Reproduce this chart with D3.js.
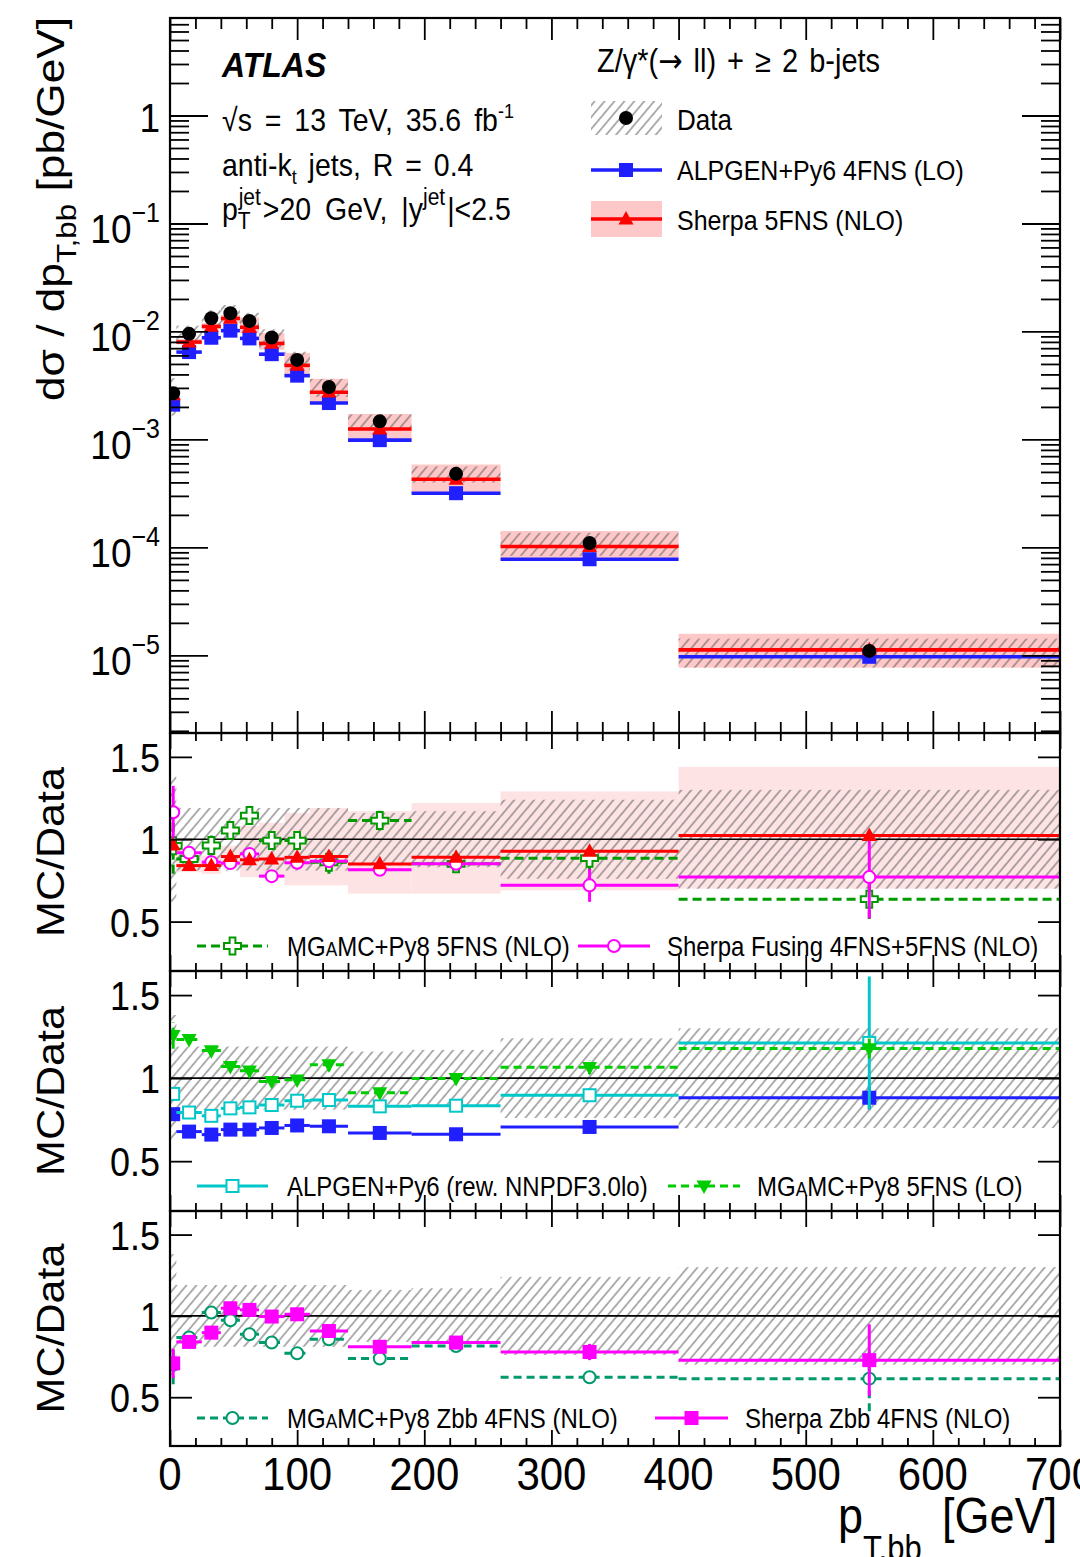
<!DOCTYPE html>
<html>
<head>
<meta charset="utf-8">
<script src="https://cdn.jsdelivr.net/npm/d3@7"></script>
<style>
  body { margin: 0; background: #fff; }
  svg { display: block; font-family: "Liberation Sans", Arial, Helvetica, sans-serif; }
</style>
</head>
<body>
<svg id="chart" width="1080" height="1557"></svg>
<script>
// ---- pT,bb binning (GeV) ----
const binEdges = [0, 5, 25, 40, 55, 70, 90, 110, 140, 190, 260, 400, 700];

// ---- measured dσ/dpT,bb (pb/GeV) and its relative total uncertainty ----
const dataXsec   = [2.68e-3, 9.5e-3, 1.325e-2, 1.475e-2, 1.25e-2, 8.8e-3, 5.45e-3, 3.06e-3, 1.47e-3, 4.8e-4, 1.1e-4, 1.1e-5];
const dataRelUnc = [0.38, 0.19, 0.19, 0.19, 0.19, 0.19, 0.19, 0.19, 0.16, 0.17, 0.24, 0.30];

// ---- predictions, expressed as MC/Data ----
const sherpa5Ratio  = [0.965, 0.84, 0.84, 0.895, 0.875, 0.88, 0.89, 0.895, 0.85, 0.89, 0.927, 1.022];
const sherpa5BandLo = [0.90, 0.80, 0.79, 0.83, 0.77, 0.77, 0.72, 0.72, 0.67, 0.67, 0.69, 0.70];
const sherpa5BandHi = [1.03, 0.90, 0.90, 0.96, 1.08, 1.10, 1.16, 1.19, 1.17, 1.22, 1.29, 1.44];

const mg5NloRatio = [0.96, 0.88, 0.962, 1.053, 1.144, 0.992, 0.992, 0.86, 1.113, 0.851, 0.885, 0.636];
const mg5NloErr   = [0.17, 0.05, 0.06, 0.05, 0.05, 0.04, 0.04, 0.07, 0.06, 0.04, 0.08, 0.12];
const fusingRatio = [1.164, 0.918, 0.861, 0.855, 0.911, 0.776, 0.857, 0.867, 0.815, 0.851, 0.72, 0.77];
const fusingErr   = [0.16, 0.02, 0.02, 0.02, 0.02, 0.03, 0.02, 0.03, 0.03, 0.03, 0.10, 0.25];

const alpgenRatio    = [0.783, 0.678, 0.66, 0.69, 0.69, 0.70, 0.715, 0.71, 0.67, 0.662, 0.706, 0.882];
const alpgenErr      = [0.02, 0.01, 0.01, 0.01, 0.01, 0.01, 0.01, 0.01, 0.01, 0.01, 0.02, 0.07];
const alpgenRewRatio = [0.905, 0.793, 0.773, 0.818, 0.824, 0.838, 0.864, 0.868, 0.83, 0.834, 0.897, 1.212];
const alpgenRewErr   = [0.04, 0.02, 0.02, 0.02, 0.02, 0.02, 0.02, 0.02, 0.02, 0.02, 0.04, 0.40];
const mg5LoRatio     = [1.257, 1.233, 1.166, 1.07, 1.044, 0.98, 0.99, 1.081, 0.912, 0.998, 1.065, 1.178];
const mg5LoErr       = [0.08, 0.02, 0.02, 0.02, 0.02, 0.02, 0.02, 0.04, 0.03, 0.03, 0.04, 0.06];

const mgZbbRatio     = [0.70, 0.867, 1.021, 0.973, 0.887, 0.836, 0.77, 0.856, 0.738, 0.815, 0.623, 0.614];
const mgZbbErr       = [0.12, 0.03, 0.03, 0.03, 0.03, 0.03, 0.03, 0.03, 0.03, 0.03, 0.04, 0.20];
const sherpaZbbRatio = [0.708, 0.84, 0.897, 1.047, 1.037, 0.996, 1.01, 0.907, 0.81, 0.836, 0.778, 0.728];
const sherpaZbbErr   = [0.09, 0.03, 0.03, 0.03, 0.03, 0.03, 0.03, 0.03, 0.03, 0.04, 0.05, 0.22];

// ---- axis labels ----
const xTickLabels = ["0", "100", "200", "300", "400", "500", "600", "700"];
const mainDecades = [1, 1e-1, 1e-2, 1e-3, 1e-4, 1e-5];
const ratioTicks = [0.5, 1, 1.5];

// ------------------------------------------------------------------
const SY = 1.12;               // vertical text stretch of the ROOT output
const X0 = 170, X1 = 1060;
const frames = {
  main: [18, 733],
  r1: [733, 971],
  r2: [971, 1211],
  r3: [1211, 1446]
};
const COL = {
  blue: "#1f1fff", red: "#ff0000", magenta: "#ff00ff", cyan: "#00c8c8",
  greenNlo: "#009a00", greenLo: "#00cc00", teal: "#00996b"
};

const svg = d3.select("#chart");
const defs = svg.append("defs");

const hatch = defs.append("pattern").attr("id", "hatch")
  .attr("patternUnits", "userSpaceOnUse").attr("width", 7.6).attr("height", 7.6)
  .attr("patternTransform", "rotate(40)");
hatch.append("line").attr("x1", 3.8).attr("y1", -1).attr("x2", 3.8).attr("y2", 8.6)
  .attr("stroke", "#5e5e5e").attr("stroke-width", 1.0);

const x = d3.scaleLinear().domain([0, 700]).range([X0, X1]);
const yMain = d3.scaleLog().domain([1.91e-6, 8.0]).range([frames.main[1], frames.main[0]]);
const yR = {};
["r1", "r2", "r3"].forEach(k => {
  yR[k] = d3.scaleLinear().domain([0.2, 1.645]).range([frames[k][1], frames[k][0]]);
});

Object.entries(frames).forEach(([k, [t, b]]) => {
  defs.append("clipPath").attr("id", "clip-" + k)
    .append("rect").attr("x", X0).attr("y", t).attr("width", X1 - X0).attr("height", b - t);
});

const bins = dataXsec.map((d, i) => ({
  i, lo: binEdges[i], hi: binEdges[i + 1], c: (binEdges[i] + binEdges[i + 1]) / 2
}));

// ---------- text helpers ----------
function stext(parent, px, py, size, anchor = "start", rotate = false) {
  const g = parent.append("g").attr("transform",
    rotate ? `translate(${px},${py}) rotate(-90) scale(${SY},1)`
           : `translate(${px},${py}) scale(1,${SY})`);
  return g.append("text").attr("font-size", size).attr("text-anchor", anchor).attr("fill", "#000");
}
function span(t, str, opts = {}) {
  const s = t.append("tspan").text(str);
  if (opts.size) s.attr("font-size", opts.size);
  if (opts.dy) s.attr("dy", opts.dy);
  if (opts.dx) s.attr("dx", opts.dx);
  if (opts.family) s.attr("font-family", opts.family);
  return s;
}
// "MGAMC" with the small-capital A
function mgamc(t, size) {
  span(t, "MG");
  span(t, "A", { size: size * 0.72 });
  span(t, "MC");
}

// ---------- markers ----------
function marker(g, type, cx, cy, color, s) {
  switch (type) {
    case "dot":
      return g.append("circle").attr("cx", cx).attr("cy", cy).attr("r", s / 2).attr("fill", color);
    case "sq":
      return g.append("rect").attr("x", cx - s / 2).attr("y", cy - s / 2).attr("width", s).attr("height", s).attr("fill", color);
    case "osq":
      return g.append("rect").attr("x", cx - s / 2 + 1).attr("y", cy - s / 2 + 1).attr("width", s - 2).attr("height", s - 2)
        .attr("fill", "#fff").attr("stroke", color).attr("stroke-width", 2);
    case "ocirc":
      return g.append("circle").attr("cx", cx).attr("cy", cy).attr("r", s / 2 - 1)
        .attr("fill", "#fff").attr("stroke", color).attr("stroke-width", 2);
    case "tri": {
      const h = s * 0.9;
      return g.append("path").attr("d", `M${cx},${cy - h * 0.6}L${cx + s / 2},${cy + h * 0.4}L${cx - s / 2},${cy + h * 0.4}Z`).attr("fill", color);
    }
    case "tridn": {
      const h = s * 0.9;
      return g.append("path").attr("d", `M${cx},${cy + h * 0.6}L${cx + s / 2},${cy - h * 0.4}L${cx - s / 2},${cy - h * 0.4}Z`).attr("fill", color);
    }
    case "ocross": {
      const a = s / 2, w = s * 0.17;
      const pts = [[-w, -a], [w, -a], [w, -w], [a, -w], [a, w], [w, w], [w, a], [-w, a], [-w, w], [-a, w], [-a, -w], [-w, -w]];
      return g.append("path").attr("d", "M" + pts.map(q => `${cx + q[0]},${cy + q[1]}`).join("L") + "Z")
        .attr("fill", "#fff").attr("stroke", color).attr("stroke-width", 2);
    }
  }
}

// ---------- axes / ticks ----------
function xTicks(top, bottom, majLen, minLen) {
  const major = d3.range(0, 701, 100), minor = d3.range(0, 701, 20).filter(v => v % 100 !== 0);
  const add = (axis, y) => {
    const g = svg.append("g").attr("transform", `translate(0,${y})`).call(axis);
    g.select(".domain").remove();
    g.selectAll("line").attr("stroke", "#000").attr("stroke-width", 1.8);
  };
  add(d3.axisBottom(x).tickValues(major).tickSize(majLen).tickFormat(""), top);
  add(d3.axisBottom(x).tickValues(minor).tickSize(minLen).tickFormat(""), top);
  add(d3.axisTop(x).tickValues(major).tickSize(majLen).tickFormat(""), bottom);
  add(d3.axisTop(x).tickValues(minor).tickSize(minLen).tickFormat(""), bottom);
}
function yTicks(scale, values, len) {
  const addL = svg.append("g").attr("transform", `translate(${X0},0)`)
    .call(d3.axisRight(scale).tickValues(values).tickSize(len).tickFormat(""));
  const addR = svg.append("g").attr("transform", `translate(${X1},0)`)
    .call(d3.axisLeft(scale).tickValues(values).tickSize(len).tickFormat(""));
  [addL, addR].forEach(g => {
    g.select(".domain").remove();
    g.selectAll("line").attr("stroke", "#000").attr("stroke-width", 1.8);
  });
}

// ====================== MAIN PANEL ======================
const gm = svg.append("g").attr("clip-path", "url(#clip-main)");
// Sherpa 5FNS uncertainty band
gm.selectAll(".band").data(bins).join("rect")
  .attr("x", d => x(d.lo)).attr("width", d => x(d.hi) - x(d.lo))
  .attr("y", d => yMain(dataXsec[d.i] * sherpa5BandHi[d.i]))
  .attr("height", d => yMain(dataXsec[d.i] * sherpa5BandLo[d.i]) - yMain(dataXsec[d.i] * sherpa5BandHi[d.i]))
  .attr("fill", "#ffc8c8");
// data uncertainty (hatched)
gm.selectAll(".dunc").data(bins).join("rect")
  .attr("x", d => x(d.lo)).attr("width", d => x(d.hi) - x(d.lo))
  .attr("y", d => yMain(dataXsec[d.i] * (1 + dataRelUnc[d.i])))
  .attr("height", d => yMain(dataXsec[d.i] * (1 - dataRelUnc[d.i])) - yMain(dataXsec[d.i] * (1 + dataRelUnc[d.i])))
  .attr("fill", "url(#hatch)");
// ALPGEN 4FNS and Sherpa 5FNS predictions
[[alpgenRatio, COL.blue], [sherpa5Ratio, COL.red]].forEach(([r, c]) => {
  gm.selectAll(null).data(bins).join("line")
    .attr("x1", d => x(d.lo)).attr("x2", d => x(d.hi))
    .attr("y1", d => yMain(dataXsec[d.i] * r[d.i])).attr("y2", d => yMain(dataXsec[d.i] * r[d.i]))
    .attr("stroke", c).attr("stroke-width", 3.6);
});
bins.forEach(d => marker(gm, "sq", x(d.c), yMain(dataXsec[d.i] * alpgenRatio[d.i]), COL.blue, 14));
bins.forEach(d => marker(gm, "tri", x(d.c), yMain(dataXsec[d.i] * sherpa5Ratio[d.i]), COL.red, 15));
bins.forEach(d => marker(gm, "dot", x(d.c), yMain(dataXsec[d.i]), "#000", 14));

// ticks of main panel
xTicks(frames.main[0], frames.main[1], 22, 11);
const logMinor = [];
for (let e = -6; e <= 0; e++) for (let m = 2; m <= 9; m++) {
  const v = m * Math.pow(10, e);
  if (v > 1.91e-6 && v < 8.0) logMinor.push(v);
}
yTicks(yMain, logMinor, 19);
yTicks(yMain, mainDecades, 38);

// y tick labels of main panel
mainDecades.forEach(v => {
  const yy = yMain(v);
  if (v === 1) {
    span(stext(svg, 160, yy + 16, 37, "end"), "1");
  } else {
    const t = stext(svg, 160, yy + 20, 37, "end");
    span(t, "10");
    span(t, "\u2212" + Math.round(-Math.log10(v)), { size: 25, dy: -19 });
  }
});

// ====================== RATIO PANELS ======================
function ratioSeries(g, key, r, err, color, mk, mkSize, dash, width = 3) {
  const ys = yR[key];
  g.selectAll(null).data(bins).join("line")
    .attr("x1", d => x(d.lo)).attr("x2", d => x(d.hi))
    .attr("y1", d => ys(r[d.i])).attr("y2", d => ys(r[d.i]))
    .attr("stroke", color).attr("stroke-width", width)
    .attr("stroke-dasharray", dash || null);
  g.selectAll(null).data(bins).join("line")
    .attr("x1", d => x(d.c)).attr("x2", d => x(d.c))
    .attr("y1", d => ys(r[d.i] - err[d.i])).attr("y2", d => ys(r[d.i] + err[d.i]))
    .attr("stroke", color).attr("stroke-width", width)
    .attr("stroke-dasharray", dash || null);
  bins.forEach(d => marker(g, mk, x(d.c), ys(r[d.i]), color, mkSize));
}

function ratioFrameBase(key, withSherpaBand) {
  const ys = yR[key];
  const g = svg.append("g").attr("clip-path", `url(#clip-${key})`);
  if (withSherpaBand) {
    g.selectAll(null).data(bins).join("rect")
      .attr("x", d => x(d.lo)).attr("width", d => x(d.hi) - x(d.lo))
      .attr("y", d => ys(sherpa5BandHi[d.i]))
      .attr("height", d => ys(sherpa5BandLo[d.i]) - ys(sherpa5BandHi[d.i]))
      .attr("fill", "#fde3e3");
  }
  g.selectAll(null).data(bins).join("rect")
    .attr("x", d => x(d.lo)).attr("width", d => x(d.hi) - x(d.lo))
    .attr("y", d => ys(1 + dataRelUnc[d.i]))
    .attr("height", d => ys(1 - dataRelUnc[d.i]) - ys(1 + dataRelUnc[d.i]))
    .attr("fill", "url(#hatch)");
  g.append("line").attr("x1", X0).attr("x2", X1).attr("y1", ys(1)).attr("y2", ys(1))
    .attr("stroke", "#000").attr("stroke-width", 1.6);
  return g;
}

// panel 1
const g1 = ratioFrameBase("r1", true);
ratioSeries(g1, "r1", mg5NloRatio, mg5NloErr, COL.greenNlo, "ocross", 17, "9,5");
ratioSeries(g1, "r1", fusingRatio, fusingErr, COL.magenta, "ocirc", 14, null);
ratioSeries(g1, "r1", sherpa5Ratio, sherpa5Ratio.map(() => 0), COL.red, "tri", 15, null);

// panel 2
const g2 = ratioFrameBase("r2", false);
ratioSeries(g2, "r2", alpgenRatio, alpgenErr, COL.blue, "sq", 14, null);
ratioSeries(g2, "r2", alpgenRewRatio, alpgenRewErr, COL.cyan, "osq", 14, null);
ratioSeries(g2, "r2", mg5LoRatio, mg5LoErr, COL.greenLo, "tridn", 15, "8,5");

// panel 3
const g3 = ratioFrameBase("r3", false);
ratioSeries(g3, "r3", mgZbbRatio, mgZbbErr, COL.teal, "ocirc", 14, "8,5");
ratioSeries(g3, "r3", sherpaZbbRatio, sherpaZbbErr, COL.magenta, "sq", 14, null);

["r1", "r2", "r3"].forEach(k => {
  xTicks(frames[k][0], frames[k][1], 16, 8);
  yTicks(yR[k], ratioTicks, 22);
  ratioTicks.forEach(v => {
    span(stext(svg, 160, yR[k](v) + 15, 36, "end"), v === 1 ? "1" : String(v));
  });
  const mid = (frames[k][0] + frames[k][1]) / 2;
  span(stext(svg, 64, mid, 38.5, "middle", true), "MC/Data");
});

// ---------- frames ----------
Object.values(frames).forEach(([t, b]) => {
  svg.append("rect").attr("x", X0).attr("y", t).attr("width", X1 - X0).attr("height", b - t)
    .attr("fill", "none").attr("stroke", "#000").attr("stroke-width", 2.2);
});

// ---------- x axis labels ----------
xTickLabels.forEach(s => {
  span(stext(svg, x(+s), 1490, 42, "middle"), s);
});
{
  const t = stext(svg, 838, 1533, 45, "start");
  span(t, "p");
  span(t, "T,bb", { size: 31, dy: 24 });
  span(t, " [GeV]", { dy: -24, dx: 8 });
}
// ---------- y axis title ----------
{
  const t = stext(svg, 64, 401, 39.5, "start", true);
  span(t, "d\u03c3 / dp");
  span(t, "T,bb", { size: 28, dy: 12 });
  span(t, " [pb/GeV]", { dy: -12 });
}

// ---------- labels in main panel ----------
{
  const t = stext(svg, 222, 77, 32, "start");
  t.attr("font-weight", "bold").attr("font-style", "italic");
  span(t, "ATLAS");
}
const infoSize = 28.5;
{
  const t = stext(svg, 222, 131, infoSize).attr("word-spacing", 5);
  span(t, "\u221as = 13 TeV, 35.6 fb");
  span(t, "-1", { size: 18, dy: -12 });
}
{
  const t = stext(svg, 222, 176, infoSize).attr("word-spacing", 4);
  span(t, "anti-k");
  span(t, "t", { size: 18, dy: 7 });
  span(t, " jets, R = 0.4", { dy: -7 });
}
{
  const t = stext(svg, 222, 220, infoSize).attr("word-spacing", 6);
  span(t, "p");
  span(t, "T", { size: 21, dy: 8 });
  span(t, "jet", { size: 21, dy: -21, dx: -12 });
  span(t, ">20 GeV, |y", { dy: 13, dx: 2 });
  span(t, "jet", { size: 21, dy: -13 });
  span(t, "|<2.5", { dy: 13, dx: 2 });
}

// ---------- main legend ----------
{
  const t = stext(svg, 597, 72, 29).attr("word-spacing", 3);
  span(t, "Z/\u03b3*(");
  span(t, "\u2192", { family: "DejaVu Sans" });
  span(t, " ll) + \u2265 2 b-jets");
  const lg = svg.append("g");
  lg.append("rect").attr("x", 591).attr("y", 101).attr("width", 71).attr("height", 34).attr("fill", "url(#hatch)");
  marker(lg, "dot", 626, 118, "#000", 14);
  lg.append("line").attr("x1", 591).attr("x2", 662).attr("y1", 170).attr("y2", 170).attr("stroke", COL.blue).attr("stroke-width", 3.6);
  marker(lg, "sq", 626, 170, COL.blue, 14);
  lg.append("rect").attr("x", 591).attr("y", 201).attr("width", 71).attr("height", 36).attr("fill", "#ffc8c8");
  lg.append("line").attr("x1", 591).attr("x2", 662).attr("y1", 219).attr("y2", 219).attr("stroke", COL.red).attr("stroke-width", 3.6);
  marker(lg, "tri", 626, 219, COL.red, 15);
  span(stext(svg, 677, 130, 26), "Data");
  span(stext(svg, 677, 180, 25), "ALPGEN+Py6 4FNS (LO)");
  span(stext(svg, 677, 230, 25), "Sherpa 5FNS (NLO)");
}

// ---------- ratio legends ----------
function legendEntry(x1, x2, cy, color, mk, mkSize, dash) {
  const lg = svg.append("g");
  lg.append("line").attr("x1", x1).attr("x2", x2).attr("y1", cy).attr("y2", cy)
    .attr("stroke", color).attr("stroke-width", 3).attr("stroke-dasharray", dash || null);
  marker(lg, mk, (x1 + x2) / 2, cy, color, mkSize);
}
const LS = 24;
legendEntry(197, 268, 946, COL.greenNlo, "ocross", 17, "9,5");
{ const t = stext(svg, 287, 956, LS); mgamc(t, LS); span(t, "+Py8 5FNS (NLO)"); }
legendEntry(578, 650, 946, COL.magenta, "ocirc", 14, null);
span(stext(svg, 667, 956, LS), "Sherpa Fusing 4FNS+5FNS (NLO)");

legendEntry(197, 268, 1186, COL.cyan, "osq", 14, null);
span(stext(svg, 287, 1196, LS), "ALPGEN+Py6 (rew. NNPDF3.0lo)");
legendEntry(668, 740, 1186, COL.greenLo, "tridn", 15, "8,5");
{ const t = stext(svg, 757, 1196, LS); mgamc(t, LS); span(t, "+Py8 5FNS (LO)"); }

legendEntry(197, 268, 1418, COL.teal, "ocirc", 14, "8,5");
{ const t = stext(svg, 287, 1428, LS); mgamc(t, LS); span(t, "+Py8 Zbb 4FNS (NLO)"); }
legendEntry(655, 728, 1418, COL.magenta, "sq", 14, null);
span(stext(svg, 745, 1428, LS), "Sherpa Zbb 4FNS (NLO)");
</script>
</body>
</html>
